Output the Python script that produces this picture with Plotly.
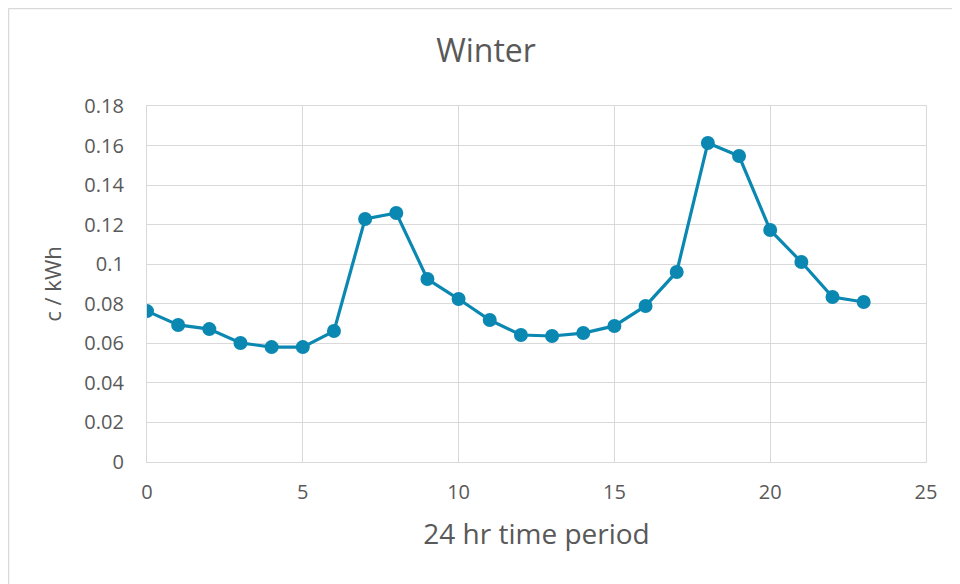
import plotly.graph_objects as go

hours = list(range(24))
price = [0.0763, 0.0693, 0.0672, 0.0602, 0.0581, 0.0581, 0.0662, 0.1229,
         0.1259, 0.0925, 0.0824, 0.0718, 0.0642, 0.0637, 0.0652, 0.0688,
         0.0789, 0.0961, 0.1613, 0.1547, 0.1173, 0.1011, 0.0834, 0.0809]
x_ticks = [0, 5, 10, 15, 20, 25]
y_ticks = [0, 0.02, 0.04, 0.06, 0.08, 0.1, 0.12, 0.14, 0.16, 0.18]
y_tick_labels = ["0", "0.02", "0.04", "0.06", "0.08", "0.1", "0.12", "0.14", "0.16", "0.18"]

color = "#0B88B2"
font = "Open Sans"
grey = "#595959"
gridc = "#d9d9d9"

fig = go.Figure()
fig.add_trace(go.Scatter(
    x=hours, y=price, mode="lines+markers",
    line=dict(color=color, width=3.2),
    marker=dict(color=color, size=14),
    showlegend=False,
))

# page has an 8px body margin; compensate so plot area lands where the reference has it
W, H = 952, 576
ml, mr, mt, mb = 139, 34, 98, 122
pw, ph = W - ml - mr, H - mt - mb

fig.update_layout(
    width=W, height=H,
    margin=dict(l=ml, r=mr, t=mt, b=mb),
    paper_bgcolor="white", plot_bgcolor="white",
    font=dict(family=font, color=grey, size=20),
    title=dict(text="Winter", x=478 / W, xanchor="center", y=1 - 43 / H, yanchor="middle",
               font=dict(size=32, color=grey, family=font)),
    xaxis=dict(range=[0, 25], tickvals=x_ticks, showgrid=True, gridcolor=gridc,
               gridwidth=1.2, showline=True, linecolor=gridc, linewidth=1.2, mirror=True,
               zeroline=False, ticks="outside", ticklen=12, tickcolor="rgba(0,0,0,0)",
               tickfont=dict(size=20, color=grey),
               title=dict(text="24 hr time period", font=dict(size=28, color=grey), standoff=20)),
    yaxis=dict(range=[0, 0.18], tickvals=y_ticks, ticktext=y_tick_labels, showgrid=True,
               gridcolor=gridc, gridwidth=1.2, showline=True, linecolor=gridc, linewidth=1.2,
               mirror=True, zeroline=False, ticks="outside", ticklen=18,
               tickcolor="rgba(0,0,0,0)", tickfont=dict(size=20, color=grey),
               title=dict(text="c / kWh", font=dict(size=22, color=grey), standoff=16)),
)

# outer chart border (top and left visible)
x_left = (0.5 - ml) / pw
y_top = (H - mb - 0.5) / ph
fig.add_shape(type="line", xref="paper", yref="paper", x0=x_left, x1=(W - ml) / pw + 0.01,
              y0=y_top, y1=y_top, line=dict(color=gridc, width=1.5))
fig.add_shape(type="line", xref="paper", yref="paper", x0=x_left, x1=x_left,
              y0=y_top, y1=-(mb + 5) / ph, line=dict(color=gridc, width=1.5))

fig.write_html("out.html")
